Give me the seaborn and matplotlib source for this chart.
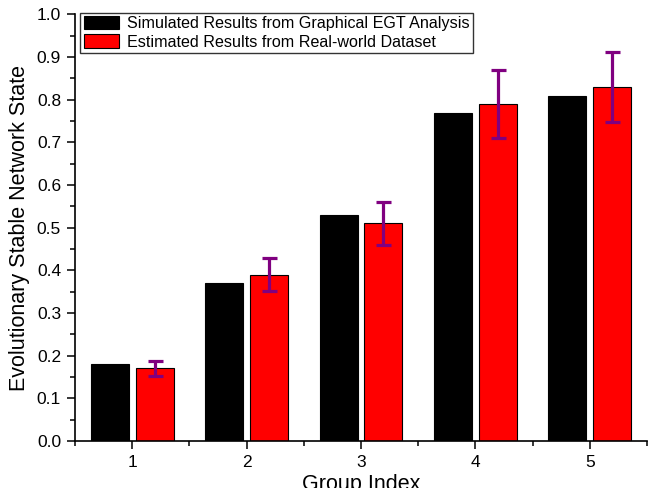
# Bar chart: simulated vs estimated evolutionary stable network state

import numpy as np
import pandas as pd
import matplotlib
matplotlib.use('Agg')
import matplotlib.pyplot as plt
from matplotlib.ticker import MultipleLocator, FormatStrFormatter
import seaborn as sns

# Data
groups = ['1', '2', '3', '4', '5']
simulated = [0.18, 0.37, 0.53, 0.77, 0.81]
estimated = [0.17, 0.39, 0.51, 0.79, 0.83]
estimated_err = [0.018, 0.039, 0.051, 0.079, 0.083]
series_names = ['Simulated Results from Graphical EGT Analysis',
                'Estimated Results from Real-world Dataset']

df = pd.DataFrame({
    'Group': groups * 2,
    'Value': simulated + estimated,
    'Series': [series_names[0]] * len(groups) + [series_names[1]] * len(groups),
})

sns.set_style('ticks', {'axes.edgecolor': 'black', 'text.color': 'black',
                        'axes.labelcolor': 'black', 'xtick.color': 'black',
                        'ytick.color': 'black'})
plt.rcParams['font.family'] = ['Liberation Sans', 'DejaVu Sans']

fig = plt.figure(figsize=(6.48, 4.88), dpi=100)
ax = fig.add_axes([0.1157, 0.0963, 0.8828, 0.8740])

sns.barplot(data=df, x='Group', y='Value', hue='Series',
            palette=['black', 'red'], saturation=1, width=0.786, gap=0.155,
            edgecolor='black', linewidth=0.8, errorbar=None, ax=ax)

# error bars on the red bars, placed at the bar centres seaborn drew
red_bars = ax.containers[1]
centers = [p.get_x() + p.get_width() / 2 for p in red_bars]
ax.errorbar(centers, estimated, yerr=estimated_err, fmt='none',
            ecolor='#800080', elinewidth=2.3, capsize=5.4, capthick=2.3)

ax.set_xlim(-0.5, 4.5)
ax.set_ylim(0, 1.0)
ax.yaxis.set_major_locator(MultipleLocator(0.1))
ax.yaxis.set_minor_locator(MultipleLocator(0.05))
ax.yaxis.set_major_formatter(FormatStrFormatter('%.1f'))
ax.xaxis.set_minor_locator(MultipleLocator(0.5))
ax.tick_params(which='major', direction='out', length=6, width=1.1,
               labelsize=12.5, pad=4)
ax.tick_params(which='minor', direction='out', length=3.5, width=1.1)

ax.spines['top'].set_visible(False)
ax.spines['right'].set_visible(False)
ax.spines['left'].set_linewidth(1.2)
ax.spines['bottom'].set_linewidth(1.2)

ax.set_xlabel('Group Index', fontsize=15.5, labelpad=3)
ax.set_ylabel('Evolutionary Stable Network State', fontsize=15.5, labelpad=5)

leg = ax.legend(loc='upper left', bbox_to_anchor=(0.004, 1.012), fontsize=11.6,
                frameon=True, fancybox=False, edgecolor='black',
                handlelength=2.2, handleheight=0.9, borderpad=0.2,
                labelspacing=0.2, handletextpad=0.5, borderaxespad=0.2)
leg.get_frame().set_linewidth(1.0)

fig.savefig('out.png', dpi=100)
